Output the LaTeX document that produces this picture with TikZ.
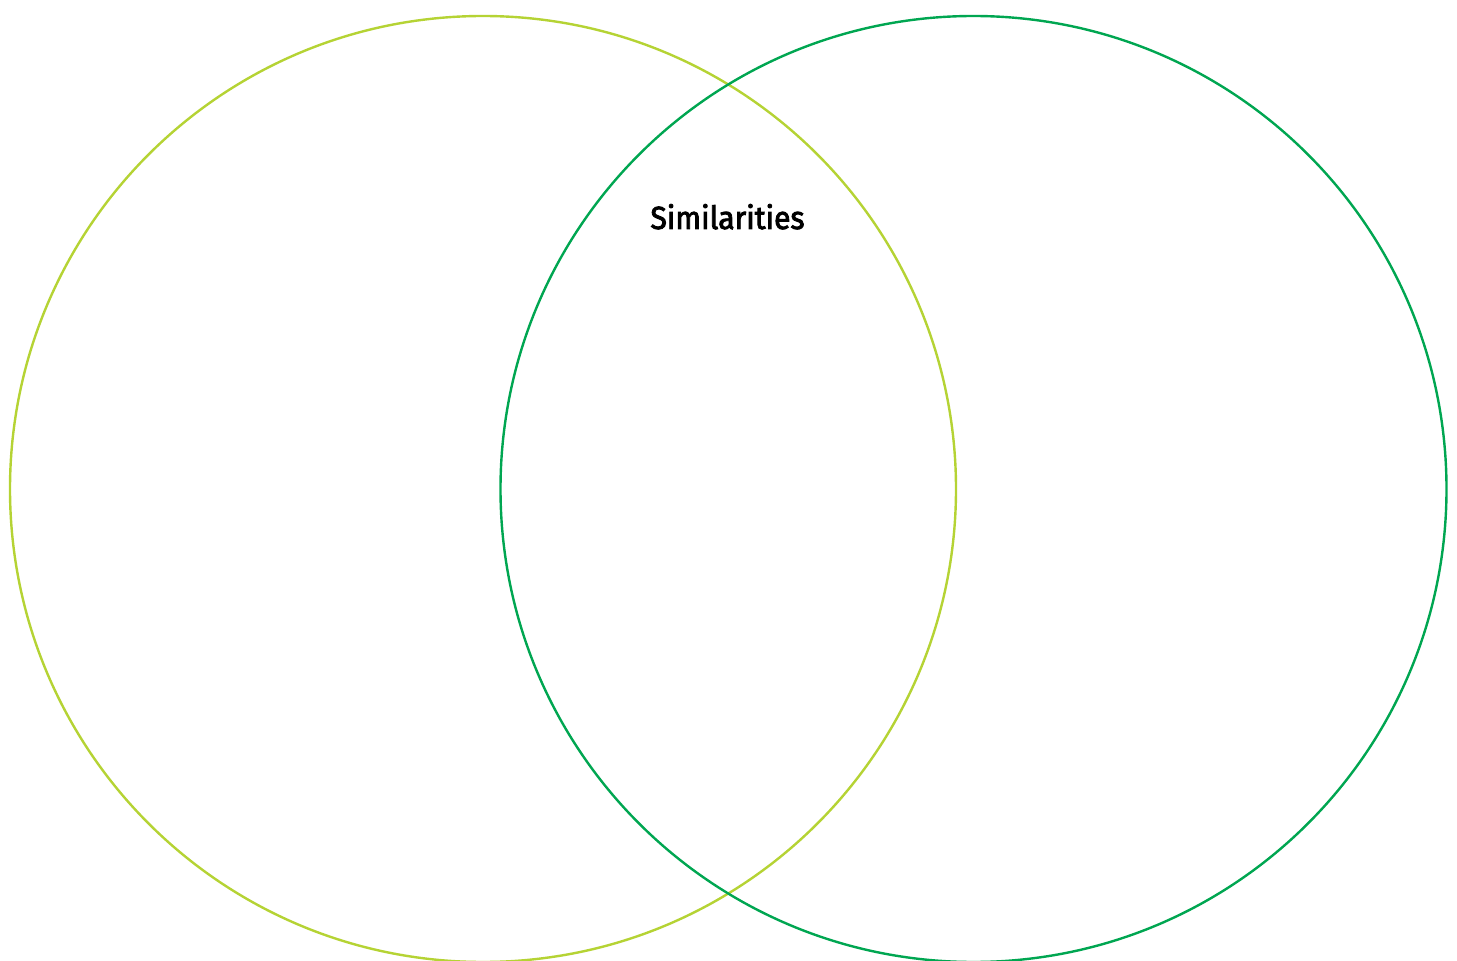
\documentclass[tikz,border=0pt]{standalone}
\usepackage{fontspec}
\setsansfont{Fira Sans}[FakeStretch=0.94,FakeBold=2.6]
\usetikzlibrary{positioning}
\definecolor{ringLime}{RGB}{181,211,52}
\definecolor{ringGreen}{RGB}{0,166,81}
\tikzset{
  ring/.style={circle, draw, line width=1.2pt, inner sep=0pt, minimum size=473pt},
  heading/.style={font=\sffamily\fontsize{16}{19}\selectfont, text=black, anchor=base},
}
\begin{document}
\begin{tikzpicture}[x=0.5pt, y=0.5pt]
  \useasboundingbox (0,0) rectangle (1457,960);
  \node[ring, draw=ringLime] (left) at (483,471) {};
  \node[ring, draw=ringGreen] (right) at (973.5,471) {};
  \node[heading] (sim) at (727.5,731) {Similarities};
\end{tikzpicture}
\end{document}
